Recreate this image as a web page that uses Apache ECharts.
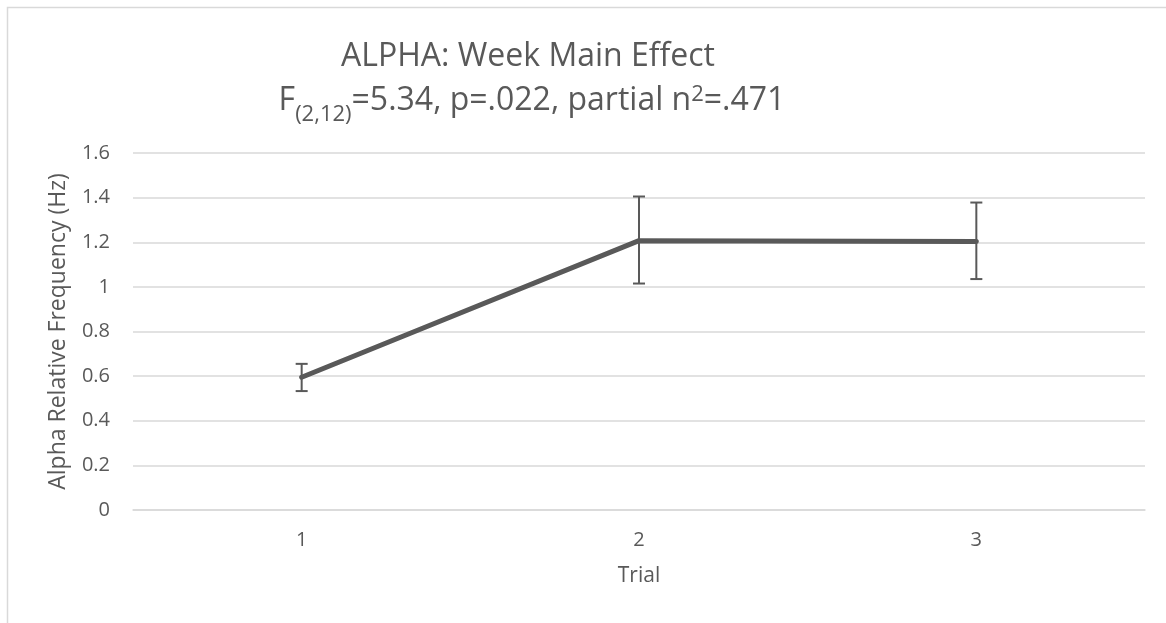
<!DOCTYPE html>
<html>
<head>
<meta charset="utf-8">
<script src="https://cdn.jsdelivr.net/npm/echarts@6/dist/echarts.min.js"></script>
<style>
html,body{margin:0;padding:0;background:#fff;}
#chart{width:1166px;height:623px;}
</style>
</head>
<body>
<div id="chart"></div>
<script>
const categories = ['1', '2', '3'];
const means = [0.595, 1.207, 1.203];
const lowerErr = [0.533, 1.015, 1.035];
const upperErr = [0.655, 1.405, 1.378];
const yTicks = { min: 0, max: 1.6, interval: 0.2 };
const titleLine1 = 'ALPHA: Week Main Effect';
const yAxisName = 'Alpha Relative Frequency (Hz)';
const xAxisName = 'Trial';

const FONT = '"Open Sans", sans-serif';
const TXT = '#595959';

const chart = echarts.init(document.getElementById('chart'));
const errData = categories.map((c, i) => [i, lowerErr[i], upperErr[i]]);

chart.setOption({
  animation: false,
  backgroundColor: '#fff',
  graphic: [
    { type: 'rect', shape: { x: 7.5, y: 7.5, width: 1200, height: 700 },
      style: { fill: 'none', stroke: '#d9d9d9', lineWidth: 1.5 }, silent: true },
    { type: 'text', x: 528, y: 57,
      style: { text: '{t|' + titleLine1 + '}', textAlign: 'center', textVerticalAlign: 'middle',
        rich: { t: { fontFamily: FONT, fontSize: 32, fill: TXT, lineHeight: 44 } } } },
    { type: 'text', x: 532, y: 101,
      style: {
        text: '{f|F}{sub|(2,12)}{f|=5.34, p=.022, partial n}{sup|2}{f|=.471}',
        textAlign: 'center', textVerticalAlign: 'middle',
        rich: {
          f: { fontFamily: FONT, fontSize: 32, fill: TXT, lineHeight: 44 },
          sub: { fontFamily: FONT, fontSize: 22, fill: TXT, lineHeight: 16, padding: [28, 0, 0, 0] },
          sup: { fontFamily: FONT, fontSize: 22, fill: TXT, lineHeight: 32, padding: [0, 0, 12, 0] }
        } } }
  ],
  grid: { left: 133, right: 21, top: 153, bottom: 113, containLabel: false },
  xAxis: {
    type: 'category', data: categories, boundaryGap: true,
    axisTick: { show: false },
    axisLine: { lineStyle: { color: '#d9d9d9', width: 1.5 } },
    axisLabel: { color: TXT, fontFamily: FONT, fontSize: 20, margin: 20 },
    name: xAxisName, nameLocation: 'middle', nameGap: 56,
    nameTextStyle: { color: TXT, fontFamily: FONT, fontSize: 21 }
  },
  yAxis: {
    type: 'value', min: yTicks.min, max: yTicks.max, interval: yTicks.interval,
    axisLine: { show: false }, axisTick: { show: false },
    splitLine: { lineStyle: { color: '#d9d9d9', width: 1.5 } },
    axisLabel: { color: TXT, fontFamily: FONT, fontSize: 20, margin: 23 },
    name: yAxisName, nameLocation: 'middle', nameGap: 63, nameRotate: 90,
    nameTextStyle: { color: TXT, fontFamily: FONT, fontSize: 23 }
  },
  series: [
    { type: 'line', data: means, symbol: 'none',
      lineStyle: { color: '#595959', width: 5, cap: 'round' }, z: 3 },
    { type: 'custom', data: errData, z: 4,
      renderItem: function (params, api) {
        const x = api.value(0);
        const lo = api.coord([x, api.value(1)]);
        const hi = api.coord([x, api.value(2)]);
        const hw = 6;
        const st = { stroke: '#595959', lineWidth: 2 };
        return { type: 'group', children: [
          { type: 'line', shape: { x1: lo[0], y1: lo[1], x2: hi[0], y2: hi[1] }, style: st },
          { type: 'line', shape: { x1: lo[0] - hw, y1: lo[1], x2: lo[0] + hw, y2: lo[1] }, style: st },
          { type: 'line', shape: { x1: hi[0] - hw, y1: hi[1], x2: hi[0] + hw, y2: hi[1] }, style: st }
        ] };
      } }
  ]
});
</script>
</body>
</html>
